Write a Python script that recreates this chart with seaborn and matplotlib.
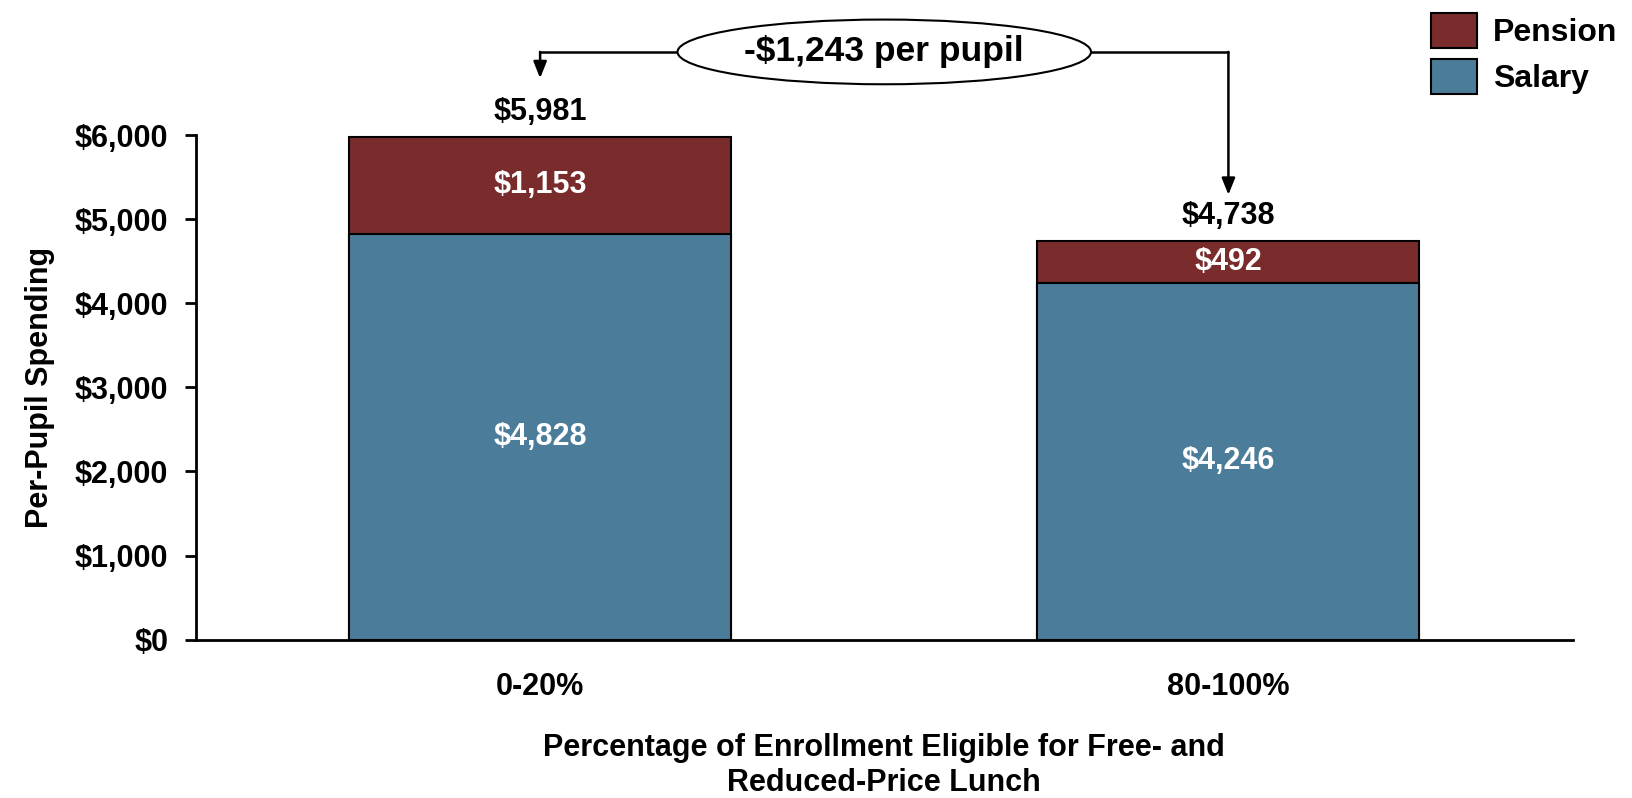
import matplotlib
matplotlib.use('Agg')
import matplotlib.pyplot as plt
import seaborn as sns
import pandas as pd
from matplotlib.patches import Patch
from matplotlib.ticker import FuncFormatter

groups = ['0-20%', '80-100%']
salary = [4828, 4246]
pension = [1153, 492]
gap_text = '-$1,243 per pupil'

df = pd.DataFrame({'group': groups, 'salary': salary, 'pension': pension})
df['total'] = df['salary'] + df['pension']

pension_color = '#7A2C2D'
salary_color = '#4B7D9B'

sns.set_style('white')
plt.rcParams['font.family'] = ['Liberation Sans', 'DejaVu Sans']
plt.rcParams['font.weight'] = 'bold'
plt.rcParams['text.color'] = 'black'
plt.rcParams['axes.labelcolor'] = 'black'
plt.rcParams['xtick.color'] = 'black'
plt.rcParams['ytick.color'] = 'black'

fig = plt.figure(figsize=(16.33, 7.98), dpi=100)
ax = fig.add_axes([0.120, 0.1986, 0.843, 0.6317])

# stacked bars: total drawn first in pension colour, salary on top of it
sns.barplot(data=df, x='group', y='total', color=pension_color, saturation=1,
            width=0.555, edgecolor='black', linewidth=1.5, ax=ax)
sns.barplot(data=df, x='group', y='salary', color=salary_color, saturation=1,
            width=0.555, edgecolor='black', linewidth=1.5, ax=ax)

ax.set_xlim(-0.5, 1.5)
ax.set_ylim(0, 6000)
ax.set_yticks(range(0, 6001, 1000))
ax.yaxis.set_major_formatter(FuncFormatter(lambda v, p: '${:,.0f}'.format(v)))

for s in ['top', 'right']:
    ax.spines[s].set_visible(False)
for s in ['left', 'bottom']:
    ax.spines[s].set_color('black')
    ax.spines[s].set_linewidth(2)

ax.tick_params(axis='y', left=True, length=8, width=2, color='black',
               labelsize=22, pad=12)
ax.tick_params(axis='x', bottom=False, labelsize=22, pad=20)
for lab in ax.get_yticklabels() + ax.get_xticklabels():
    lab.set_fontweight('bold')

ax.set_ylabel('Per-Pupil Spending', fontsize=22, fontweight='bold', labelpad=14)
ax.set_xlabel('Percentage of Enrollment Eligible for Free- and\nReduced-Price Lunch',
              fontsize=22, fontweight='bold', labelpad=22, linespacing=1.25)

# value labels
for i, row in df.iterrows():
    ax.text(i, row['salary'] / 2, '${:,}'.format(row['salary']), color='white',
            ha='center', va='center', fontsize=22, fontweight='bold')
    ax.text(i, row['salary'] + row['pension'] / 2, '${:,}'.format(row['pension']),
            color='white', ha='center', va='center', fontsize=22, fontweight='bold')
    ax.annotate('${:,}'.format(row['total']), xy=(i, row['total']), xytext=(0, 18),
                textcoords='offset points', ha='center', va='center',
                fontsize=22, fontweight='bold', annotation_clip=False)

# difference callout
line_y = 6994
ax.text(0.5, line_y, gap_text, ha='center', va='center', fontsize=25.5,
        fontweight='bold', zorder=5,
        bbox=dict(boxstyle='ellipse,pad=0.18', fc='white', ec='black', lw=1.5))
ax.plot([0, 1], [line_y, line_y], color='black', lw=1.8, clip_on=False, zorder=4)
ax.annotate('', xy=(0, df['total'][0] + 700), xytext=(0, line_y),
            arrowprops=dict(arrowstyle='-|>,head_length=1.0,head_width=0.4',
                            color='black', lw=1.8, shrinkA=0, shrinkB=0),
            annotation_clip=False)
ax.annotate('', xy=(1, df['total'][1] + 555), xytext=(1, line_y),
            arrowprops=dict(arrowstyle='-|>,head_length=1.0,head_width=0.4',
                            color='black', lw=1.8, shrinkA=0, shrinkB=0),
            annotation_clip=False)

handles = [Patch(facecolor=pension_color, edgecolor='black', lw=1.5, label='Pension'),
           Patch(facecolor=salary_color, edgecolor='black', lw=1.5, label='Salary')]
fig.legend(handles=handles, loc='upper right', bbox_to_anchor=(1.004, 1.012),
           frameon=False, prop={'size': 23, 'weight': 'bold'},
           handlelength=1.45, handleheight=1.3, labelspacing=0.35,
           handletextpad=0.5, borderaxespad=0.3)

fig.savefig('out.png', dpi=100)
